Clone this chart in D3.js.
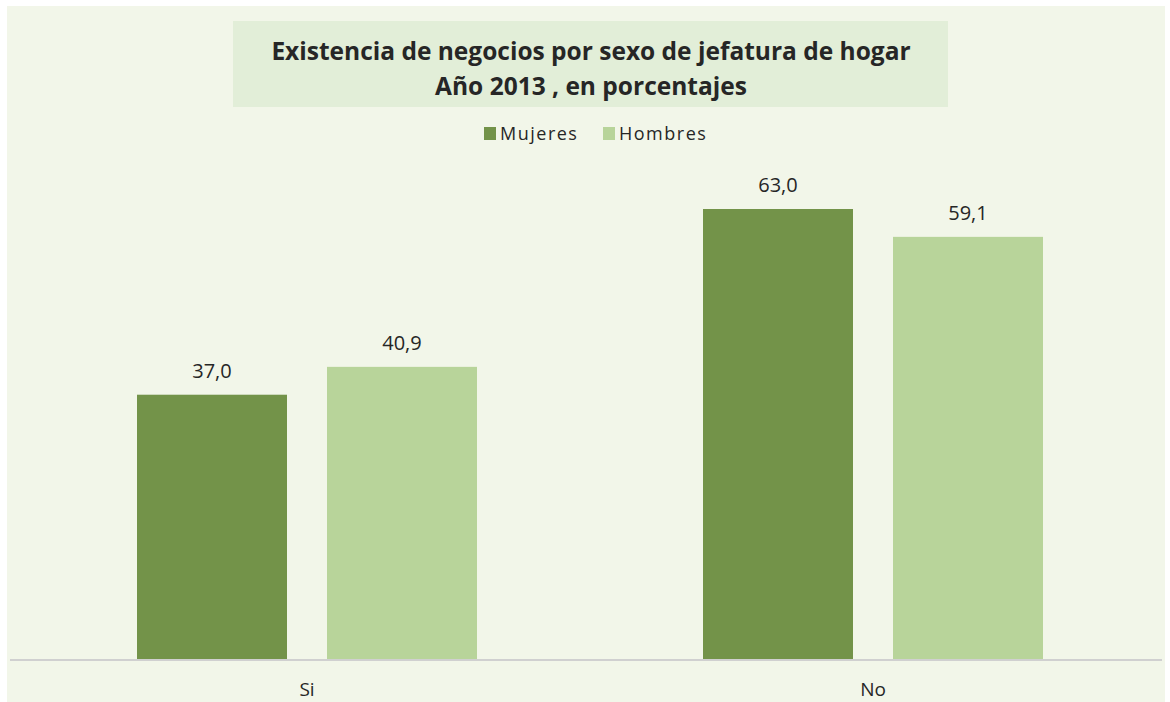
<!DOCTYPE html>
<html>
<head>
<meta charset="utf-8">
<script src="https://cdn.jsdelivr.net/npm/d3@7"></script>
<style>
  body { margin: 0; background: #ffffff; }
  svg text { font-family: "Open Sans", Lato, sans-serif; fill: #262626; }
</style>
</head>
<body>
<div id="chart"></div>
<script>
// Datos del gráfico //
const categorias = ["Si", "No"]
const series = ["Mujeres", "Hombres"]
const mujeres = [37.0, 63.0]
const hombres = [40.9, 59.1]
const colores = ["#739349", "#b8d49a"]
const titulo = ["Existencia de negocios por sexo de jefatura de hogar", "Año 2013 , en porcentajes"]

const width = 1170, height = 702

const svg = d3.select("#chart").append("svg")
  .attr("width", width)
  .attr("height", height)

// Fondo del gráfico
svg.append("rect")
  .attr("x", 7).attr("y", 6)
  .attr("width", 1158).attr("height", 696)
  .attr("fill", "#f2f6e9")

// Caja del título
svg.append("rect")
  .attr("x", 233).attr("y", 21)
  .attr("width", 715).attr("height", 86)
  .attr("fill", "#e2eed8")

svg.selectAll("text.titulo")
  .data(titulo)
  .enter()
  .append("text")
  .attr("class", "titulo")
  .attr("x", 591)
  .attr("y", (d, i) => 60 + i * 35)
  .attr("text-anchor", "middle")
  .style("font-size", "24.5px")
  .style("font-weight", "bold")
  .text(d => d)

// Escalas
const x0 = d3.scaleBand().domain(categorias).range([24, 1156])
const x1 = d3.scaleBand().domain(series).range([0, 340]).paddingInner(40 / 190)
const y = d3.scaleLinear().domain([0, 70]).range([659, 159])

const datos = categorias.map((c, i) => ({ cat: c, valores: [
  { serie: "Mujeres", valor: mujeres[i] },
  { serie: "Hombres", valor: hombres[i] }
]}))

const color = d3.scaleOrdinal().domain(series).range(colores)

const grupos = svg.selectAll("g.grupo")
  .data(datos)
  .enter()
  .append("g")
  .attr("class", "grupo")
  .attr("transform", d => "translate(" + (x0(d.cat) + x0.bandwidth() / 2 - 170) + ",0)")

grupos.selectAll("rect")
  .data(d => d.valores)
  .enter()
  .append("rect")
  .attr("x", d => x1(d.serie))
  .attr("y", d => y(d.valor))
  .attr("width", x1.bandwidth())
  .attr("height", d => y(0) - y(d.valor))
  .attr("fill", d => color(d.serie))

grupos.selectAll("text")
  .data(d => d.valores)
  .enter()
  .append("text")
  .attr("x", d => x1(d.serie) + x1.bandwidth() / 2)
  .attr("y", d => y(d.valor) - 17)
  .attr("text-anchor", "middle")
  .style("font-size", "20px")
  .text(d => d.valor.toFixed(1).replace(".", ","))

// Eje X
svg.append("line")
  .attr("x1", 10).attr("x2", 1162)
  .attr("y1", 660).attr("y2", 660)
  .attr("stroke", "#d0d0d0")
  .attr("stroke-width", 2)

svg.selectAll("text.cat")
  .data(categorias)
  .enter()
  .append("text")
  .attr("class", "cat")
  .attr("x", d => x0(d) + x0.bandwidth() / 2)
  .attr("y", 696)
  .attr("text-anchor", "middle")
  .style("font-size", "19px")
  .text(d => d)

// Leyenda
const leyendaX = [484, 603]
const leyenda = svg.selectAll("g.leyenda")
  .data(series)
  .enter()
  .append("g")
  .attr("class", "leyenda")
  .attr("transform", (d, i) => "translate(" + leyendaX[i] + ",127)")

leyenda.append("rect")
  .attr("width", 12).attr("height", 13)
  .attr("fill", d => color(d))

leyenda.append("text")
  .attr("x", 16)
  .attr("y", 13)
  .style("font-size", "18px")
  .style("letter-spacing", "1.5px")
  .text(d => d)
</script>
</body>
</html>
